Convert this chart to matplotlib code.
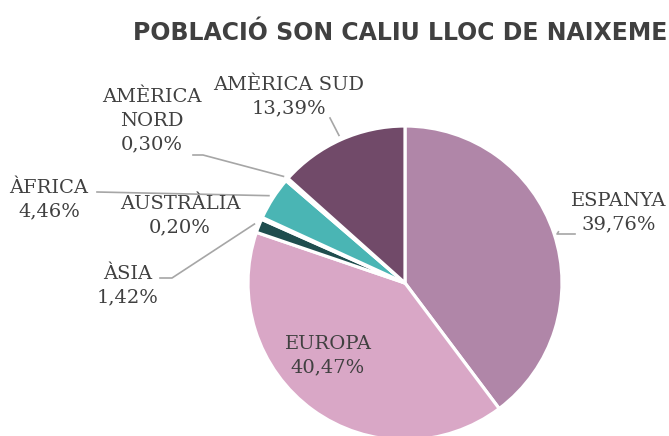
import matplotlib
matplotlib.use("Agg")
import matplotlib.pyplot as plt
import numpy as np

# ---- data ----
categories = ["ESPANYA", "EUROPA", "ÀSIA", "AUSTRÀLIA", "ÀFRICA", "AMÈRICA\nNORD", "AMÈRICA SUD"]
values = [39.76, 40.47, 1.42, 0.20, 4.46, 0.30, 13.39]
pct_labels = ["39,76%", "40,47%", "1,42%", "0,20%", "4,46%", "0,30%", "13,39%"]
colors = ["#B086A8", "#D9A7C6", "#1F4D4E", "#8FB5B0", "#4AB5B4", "#9B7A95", "#714A69"]
title = "POBLACIÓ SON CALIU LLOC DE NAIXEMENT"

W, H = 669, 436
fig = plt.figure(figsize=(W / 100, H / 100), dpi=100)

cx, cy, R = 405, 283, 157  # pixel geometry of pie
ax = fig.add_axes([(cx - R) / W, (H - cy - R) / H, 2 * R / W, 2 * R / H])
wedges, _ = ax.pie(values, colors=colors, startangle=90, counterclock=False,
                   radius=1.0, wedgeprops=dict(edgecolor="white", linewidth=2.3))
ax.set_xlim(-1, 1)
ax.set_ylim(-1, 1)
ax.set_aspect("equal")
ax.axis("off")

txt_color = "#404040"
line_color = "#A6A6A6"
fs = 14
font = "DejaVu Serif"

def fig_px(x, y):
    return (x / W, 1 - y / H)

# label positions (pixel, centre of text block)
label_pos = {
    0: (619, 213),
    1: (328, 356),
    2: (128, 286),
    3: (180, 216),
    4: (49, 200),
    5: (152, 121),
    6: (289, 97),
}
# leader line elbow points (pixel), None = no leader
elbows = {
    0: [(575, 234), (557, 234)],
    2: [(160, 278), (172, 278)],
    4: [(97, 192)],
    5: [(193, 155), (203, 155)],
    6: [(330, 118)],
}

for i, w in enumerate(wedges):
    lx, ly = label_pos[i]
    fx, fy = fig_px(lx, ly)
    fig.text(fx, fy, categories[i] + "\n" + pct_labels[i], ha="center", va="center",
             fontsize=fs, family=font, color=txt_color, linespacing=1.4)
    if i in elbows:
        ang = np.deg2rad((w.theta1 + w.theta2) / 2)
        r = 1.03
        ex, ey = r * np.cos(ang), r * np.sin(ang)
        disp = ax.transData.transform((ex, ey))
        endf = fig.transFigure.inverted().transform(disp)
        pts = [fig_px(*p) for p in elbows[i]] + [tuple(endf)]
        xs, ys = zip(*pts)
        fig.add_artist(plt.Line2D(xs, ys, transform=fig.transFigure,
                                  color=line_color, linewidth=1.2))

fig.text(133 / W, 1 - 33 / H, title, ha="left", va="center", fontsize=17,
         fontweight="bold", family="DejaVu Sans", color="#404040")

fig.savefig("out.png", dpi=100)
